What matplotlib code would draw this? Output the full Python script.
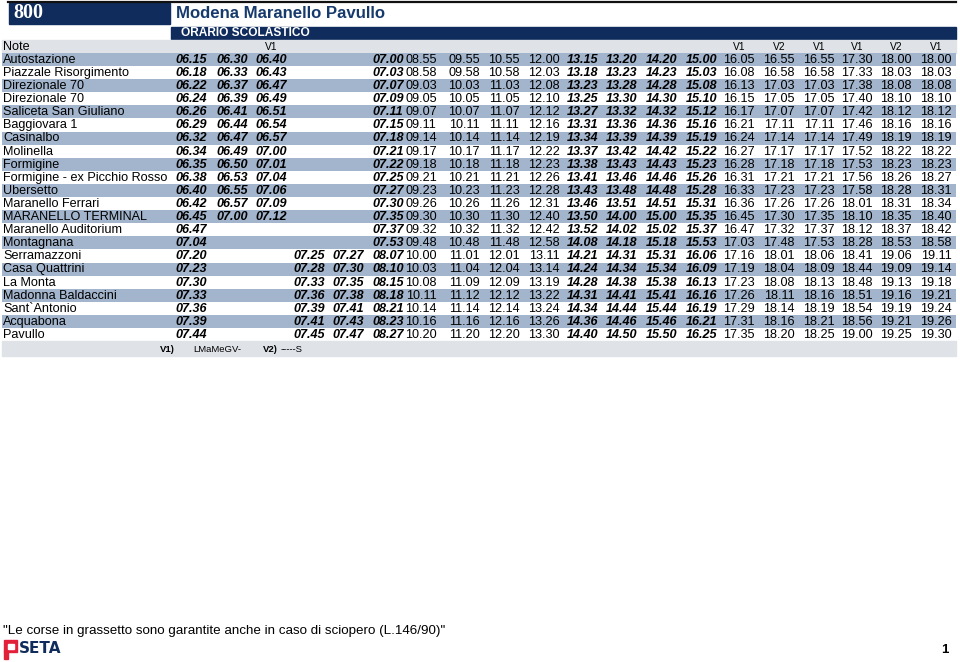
import matplotlib.pyplot as plt
from matplotlib.patches import Rectangle

plt.rcParams['font.family'] = ['Liberation Sans', 'DejaVu Sans']

# timetable data
line_number = "800"
title = "Modena Maranello Pavullo"
subtitle = "ORARIO SCOLASTICO"

stops = ["Autostazione", "Piazzale Risorgimento", "Direzionale 70", "Direzionale 70",
         "Saliceta San Giuliano", "Baggiovara 1", "Casinalbo", "Molinella", "Formigine",
         "Formigine - ex Picchio Rosso", "Ubersetto", "Maranello Ferrari",
         "MARANELLO TERMINAL", "Maranello Auditorium", "Montagnana", "Serramazzoni",
         "Casa Quattrini", "La Monta", "Madonna Baldaccini", "Sant`Antonio",
         "Acquabona", "Pavullo"]

E = ""
runs = [
    ["06.15", "06.18", "06.22", "06.24", "06.26", "06.29", "06.32", "06.34", "06.35", "06.38", "06.40",
     "06.42", "06.45", "06.47", "07.04", "07.20", "07.23", "07.30", "07.33", "07.36", "07.39", "07.44"],
    ["06.30", "06.33", "06.37", "06.39", "06.41", "06.44", "06.47", "06.49", "06.50", "06.53", "06.55",
     "06.57", "07.00", E, E, E, E, E, E, E, E, E],
    ["06.40", "06.43", "06.47", "06.49", "06.51", "06.54", "06.57", "07.00", "07.01", "07.04", "07.06",
     "07.09", "07.12", E, E, E, E, E, E, E, E, E],
    [E, E, E, E, E, E, E, E, E, E, E, E, E, E, E,
     "07.25", "07.28", "07.33", "07.36", "07.39", "07.41", "07.45"],
    [E, E, E, E, E, E, E, E, E, E, E, E, E, E, E,
     "07.27", "07.30", "07.35", "07.38", "07.41", "07.43", "07.47"],
    ["07.00", "07.03", "07.07", "07.09", "07.11", "07.15", "07.18", "07.21", "07.22", "07.25", "07.27",
     "07.30", "07.35", "07.37", "07.53", "08.07", "08.10", "08.15", "08.18", "08.21", "08.23", "08.27"],
    ["08.55", "08.58", "09.03", "09.05", "09.07", "09.11", "09.14", "09.17", "09.18", "09.21", "09.23",
     "09.26", "09.30", "09.32", "09.48", "10.00", "10.03", "10.08", "10.11", "10.14", "10.16", "10.20"],
    ["09.55", "09.58", "10.03", "10.05", "10.07", "10.11", "10.14", "10.17", "10.18", "10.21", "10.23",
     "10.26", "10.30", "10.32", "10.48", "11.01", "11.04", "11.09", "11.12", "11.14", "11.16", "11.20"],
    ["10.55", "10.58", "11.03", "11.05", "11.07", "11.11", "11.14", "11.17", "11.18", "11.21", "11.23",
     "11.26", "11.30", "11.32", "11.48", "12.01", "12.04", "12.09", "12.12", "12.14", "12.16", "12.20"],
    ["12.00", "12.03", "12.08", "12.10", "12.12", "12.16", "12.19", "12.22", "12.23", "12.26", "12.28",
     "12.31", "12.40", "12.42", "12.58", "13.11", "13.14", "13.19", "13.22", "13.24", "13.26", "13.30"],
    ["13.15", "13.18", "13.23", "13.25", "13.27", "13.31", "13.34", "13.37", "13.38", "13.41", "13.43",
     "13.46", "13.50", "13.52", "14.08", "14.21", "14.24", "14.28", "14.31", "14.34", "14.36", "14.40"],
    ["13.20", "13.23", "13.28", "13.30", "13.32", "13.36", "13.39", "13.42", "13.43", "13.46", "13.48",
     "13.51", "14.00", "14.02", "14.18", "14.31", "14.34", "14.38", "14.41", "14.44", "14.46", "14.50"],
    ["14.20", "14.23", "14.28", "14.30", "14.32", "14.36", "14.39", "14.42", "14.43", "14.46", "14.48",
     "14.51", "15.00", "15.02", "15.18", "15.31", "15.34", "15.38", "15.41", "15.44", "15.46", "15.50"],
    ["15.00", "15.03", "15.08", "15.10", "15.12", "15.16", "15.19", "15.22", "15.23", "15.26", "15.28",
     "15.31", "15.35", "15.37", "15.53", "16.06", "16.09", "16.13", "16.16", "16.19", "16.21", "16.25"],
    ["16.05", "16.08", "16.13", "16.15", "16.17", "16.21", "16.24", "16.27", "16.28", "16.31", "16.33",
     "16.36", "16.45", "16.47", "17.03", "17.16", "17.19", "17.23", "17.26", "17.29", "17.31", "17.35"],
    ["16.55", "16.58", "17.03", "17.05", "17.07", "17.11", "17.14", "17.17", "17.18", "17.21", "17.23",
     "17.26", "17.30", "17.32", "17.48", "18.01", "18.04", "18.08", "18.11", "18.14", "18.16", "18.20"],
    ["16.55", "16.58", "17.03", "17.05", "17.07", "17.11", "17.14", "17.17", "17.18", "17.21", "17.23",
     "17.26", "17.35", "17.37", "17.53", "18.06", "18.09", "18.13", "18.16", "18.19", "18.21", "18.25"],
    ["17.30", "17.33", "17.38", "17.40", "17.42", "17.46", "17.49", "17.52", "17.53", "17.56", "17.58",
     "18.01", "18.10", "18.12", "18.28", "18.41", "18.44", "18.48", "18.51", "18.54", "18.56", "19.00"],
    ["18.00", "18.03", "18.08", "18.10", "18.12", "18.16", "18.19", "18.22", "18.23", "18.26", "18.28",
     "18.31", "18.35", "18.37", "18.53", "19.06", "19.09", "19.13", "19.16", "19.19", "19.21", "19.25"],
    ["18.00", "18.03", "18.08", "18.10", "18.12", "18.16", "18.19", "18.22", "18.23", "18.27", "18.31",
     "18.34", "18.40", "18.42", "18.58", "19.11", "19.14", "19.18", "19.21", "19.24", "19.26", "19.30"],
]
# runs guaranteed during strikes (printed in bold)
bold_runs = [True, True, True, True, True, True, False, False, False, False,
             True, True, True, True, False, False, False, False, False, False]
notes = [E, E, "V1", E, E, E, E, E, E, E, E, E, E, E, "V1", "V2", "V1", "V1", "V2", "V1"]

legend = [("V1)", "LMaMeGV-"), ("V2)", "-----S")]
footnote = "\"Le corse in grassetto sono garantite anche in caso di sciopero (L.146/90)\""
page = "1"

# layout (pixels)
col_x = [191, 232, 271, 309, 348, 388, 421, 464, 504, 544,
         583, 622, 662, 702, 739, 779, 819, 857, 896, 936]
NAVY = "#0f2c5c"
ROW_BLUE = "#a3b5cc"
LIGHT = "#dfe3e8"
fs = 9.1

fig = plt.figure(figsize=(9.6, 6.62), dpi=100)
ax = fig.add_axes([0, 0, 1, 1])
ax.set_xlim(0, 960)
ax.set_ylim(662, 0)
ax.axis('off')

# header
ax.plot([8, 956], [1.5, 1.5], color="#111111", lw=1.6)
ax.add_patch(Rectangle((9, 3), 161, 21, color=NAVY))
ax.text(13, 13.5, line_number, color="white", fontsize=14.5, fontweight="bold",
        family="Liberation Serif", va="center", ha="left")
ax.text(176, 14, title, color="#173a6c", fontsize=12.1, fontweight="bold", va="center", ha="left")
ax.add_patch(Rectangle((171, 27), 785, 11.5, color=NAVY))
ax.text(181, 32.8, subtitle, color="white", fontsize=8.6, fontweight="bold", va="center", ha="left")

# note row
ax.add_patch(Rectangle((2, 40), 954, 12.5, color=LIGHT))
ax.text(3, 46.5, "Note", fontsize=fs, va="center", ha="left")
for x, n in zip(col_x, notes):
    if n:
        ax.text(x, 46.5, n, fontsize=7.4, va="center", ha="center")

# timetable rows
top = 53
h = 13.1
for i, stop in enumerate(stops):
    y0 = top + i * h
    if i % 2 == 0:
        ax.add_patch(Rectangle((2, y0), 954, h, color=ROW_BLUE, lw=0))
    yc = y0 + h / 2 + 0.3
    ax.text(3, yc, stop, fontsize=fs, va="center", ha="left")
    for x, run, b in zip(col_x, runs, bold_runs):
        t = run[i]
        if not t:
            continue
        if b:
            ax.text(x, yc, t, fontsize=fs, va="center", ha="center",
                    fontweight="bold", fontstyle="italic")
        else:
            ax.text(x, yc, t, fontsize=fs, va="center", ha="center")

# legend row
fy = top + len(stops) * h
ax.add_patch(Rectangle((2, fy), 954, 15, color=LIGHT))
lx = [(160, 193), (263, 281)]
for (code, days), (x1, x2) in zip(legend, lx):
    ax.text(x1, fy + 7.8, code, fontsize=6.8, fontweight="bold", va="center", ha="left")
    ax.text(x2, fy + 7.8, days, fontsize=6.8, va="center", ha="left")

# footer
ax.text(3, 631, footnote, fontsize=9.6, va="center", ha="left")
ax.add_patch(Rectangle((4, 640), 13, 12, color="#e3203a"))
ax.add_patch(Rectangle((7.5, 643.5), 6, 5, color="white"))
ax.add_patch(Rectangle((4, 651), 4, 8, color="#e3203a"))
ax.text(19, 648.5, "SETA", color=NAVY, fontsize=11, fontweight="bold", va="center", ha="left",
        family="Liberation Sans Narrow")
ax.text(945, 650, page, fontsize=9.5, fontweight="bold", va="center", ha="center")

fig.savefig("out.png", dpi=100)
